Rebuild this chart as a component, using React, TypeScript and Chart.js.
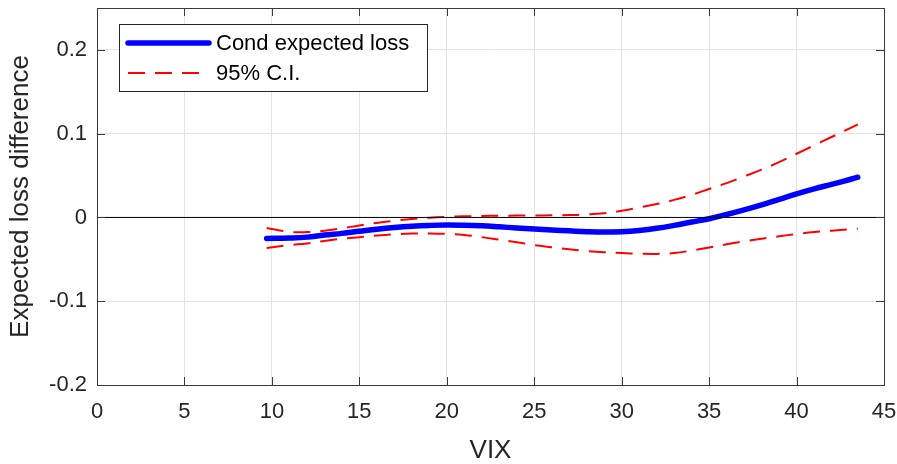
import React, { useEffect, useRef } from "react";
import { Chart, registerables } from "chart.js";

Chart.register(...registerables);

const FONT = "'Liberation Sans', Arial, Helvetica, sans-serif";

const vix = [9.7, 11, 12, 13, 14, 15, 16, 17, 18, 19, 20, 21, 22, 23, 24, 25, 26, 27, 28, 29, 30, 31, 32, 33, 34, 35, 36, 37, 38, 39, 40, 41, 42, 43, 43.5];
const condLoss = [-0.025, -0.0245, -0.0235, -0.021, -0.019, -0.0165, -0.014, -0.012, -0.0105, -0.0095, -0.009, -0.0093, -0.01, -0.0112, -0.0125, -0.0137, -0.015, -0.016, -0.017, -0.0175, -0.017, -0.0155, -0.013, -0.0095, -0.0055, -0.0015, 0.0035, 0.009, 0.015, 0.0215, 0.028, 0.034, 0.0395, 0.045, 0.048];
const ciUpper = [-0.0125, -0.0172, -0.0175, -0.016, -0.013, -0.0095, -0.0065, -0.004, -0.0018, -0.0003, 0.0007, 0.0013, 0.0018, 0.002, 0.0022, 0.0024, 0.0025, 0.0028, 0.0035, 0.005, 0.008, 0.012, 0.016, 0.021, 0.027, 0.034, 0.041, 0.049, 0.057, 0.066, 0.076, 0.086, 0.096, 0.106, 0.111];
const ciLower = [-0.0365, -0.033, -0.031, -0.028, -0.0255, -0.0235, -0.0215, -0.02, -0.0193, -0.0192, -0.0197, -0.021, -0.0235, -0.0265, -0.0295, -0.033, -0.0355, -0.038, -0.04, -0.0415, -0.0425, -0.0433, -0.0435, -0.0425, -0.0395, -0.0358, -0.032, -0.0285, -0.0255, -0.0225, -0.0198, -0.0175, -0.0158, -0.0142, -0.0135];

const xTicks = [0, 5, 10, 15, 20, 25, 30, 35, 40, 45];
const yTicks = [-0.2, -0.1, 0, 0.1, 0.2];

const labelMean = "Cond expected loss";
const labelCI = "95% C.I.";
const xTitle = "VIX";
const yTitle = "Expected loss difference";

const DASH = [17, 10];

const boxTicksPlugin = {
  id: "boxTicks",
  afterDatasetsDraw(chart: any) {
    const { ctx, chartArea: a, scales } = chart;
    const xs = scales.x, ys = scales.y;
    ctx.save();
    ctx.strokeStyle = "#3a3a3a";
    ctx.lineWidth = 1;
    const L = 8;
    ctx.beginPath();
    xTicks.forEach((t) => {
      const px = Math.round(xs.getPixelForValue(t)) + 0.5;
      ctx.moveTo(px, a.bottom);
      ctx.lineTo(px, a.bottom - L);
      ctx.moveTo(px, a.top);
      ctx.lineTo(px, a.top + L);
    });
    yTicks.forEach((t) => {
      const py = Math.round(ys.getPixelForValue(t)) + 0.5;
      ctx.moveTo(a.left, py);
      ctx.lineTo(a.left + L, py);
      ctx.moveTo(a.right, py);
      ctx.lineTo(a.right - L, py);
    });
    ctx.stroke();
    ctx.strokeRect(Math.round(a.left) + 0.5, Math.round(a.top) + 0.5, Math.round(a.right - a.left), Math.round(a.bottom - a.top));

    // legend
    const lx = 119.5, ly = 24.5, lw = 308, lh = 67;
    ctx.fillStyle = "#ffffff";
    ctx.fillRect(lx, ly, lw, lh);
    ctx.strokeStyle = "#262626";
    ctx.strokeRect(lx, ly, lw, lh);
    const rows = [
      { label: labelMean, color: "#0000ff", width: 5.5, dash: [] as number[], y: 43 },
      { label: labelCI, color: "#ff0000", width: 2, dash: DASH, y: 73 },
    ];
    ctx.font = `22px ${FONT}`;
    ctx.textBaseline = "middle";
    ctx.textAlign = "left";
    rows.forEach((r) => {
      ctx.beginPath();
      ctx.setLineDash(r.dash);
      ctx.lineWidth = r.width;
      ctx.lineCap = r.dash.length ? "butt" : "round";
      ctx.strokeStyle = r.color;
      ctx.moveTo(128, r.y);
      ctx.lineTo(209, r.y);
      ctx.stroke();
      ctx.setLineDash([]);
      ctx.fillStyle = "#000000";
      ctx.fillText(r.label, 216, r.y + 1);
    });
    ctx.restore();
  },
};

const zeroPad = (s: any) => {
  s.paddingLeft = 0;
  s.paddingRight = 0;
  s.paddingTop = 0;
  s.paddingBottom = 0;
};

export default function App() {
  const ref = useRef<HTMLCanvasElement>(null);
  useEffect(() => {
    if (!ref.current) return;
    const toPts = (ys: number[]) => ys.map((y, i) => ({ x: vix[i], y }));
    const chart = new Chart(ref.current, {
      type: "line",
      data: {
        datasets: [
          {
            label: "zero",
            data: [{ x: 0, y: 0 }, { x: 45, y: 0 }],
            borderColor: "#000000",
            borderWidth: 1,
            pointRadius: 0,
            tension: 0,
          },
          {
            label: labelCI,
            data: toPts(ciUpper),
            borderColor: "#ff0000",
            borderWidth: 2,
            borderDash: DASH,
            pointRadius: 0,
            tension: 0.4,
          },
          {
            label: labelCI + " lower",
            data: toPts(ciLower),
            borderColor: "#ff0000",
            borderWidth: 2,
            borderDash: DASH,
            pointRadius: 0,
            tension: 0.4,
          },
          {
            label: labelMean,
            data: toPts(condLoss),
            borderColor: "#0000ff",
            borderWidth: 5.5,
            borderCapStyle: "round",
            pointRadius: 0,
            tension: 0.4,
          },
        ],
      },
      options: {
        animation: false,
        responsive: false,
        maintainAspectRatio: false,
        layout: { padding: { top: 8, right: 13, left: 0, bottom: 0 } },
        plugins: { legend: { display: false }, tooltip: { enabled: false } },
        scales: {
          x: {
            type: "linear",
            min: 0,
            max: 45,
            afterFit: (s: any) => { s.height = 79; zeroPad(s); },
            afterBuildTicks: (s: any) => { s.ticks = xTicks.map((v) => ({ value: v })); },
            ticks: {
              font: { family: FONT, size: 22 },
              color: "#262626",
              padding: 14,
              maxRotation: 0,
              callback: (v: any) => String(v),
            },
            grid: { color: "#e3e3e3", drawTicks: false },
            border: { display: false },
            title: {
              display: true,
              text: xTitle,
              font: { family: FONT, size: 26, lineHeight: 1 },
              color: "#262626",
              padding: { top: 0, bottom: 0 },
            },
          },
          y: {
            type: "linear",
            min: -0.2,
            max: 0.25,
            afterFit: (s: any) => { s.width = 97; zeroPad(s); },
            afterBuildTicks: (s: any) => { s.ticks = yTicks.map((v) => ({ value: v })); },
            ticks: {
              font: { family: FONT, size: 22 },
              color: "#262626",
              padding: 10,
              callback: (v: any) => (Math.abs(v) < 1e-9 ? "0" : String(Math.round(v * 10) / 10)),
            },
            grid: { color: "#e3e3e3", drawTicks: false },
            border: { display: false },
            title: {
              display: true,
              text: yTitle,
              font: { family: FONT, size: 26, lineHeight: 1 },
              color: "#262626",
              padding: { top: 8, bottom: 0 },
            },
          },
        },
      },
      plugins: [boxTicksPlugin],
    } as any);
    return () => chart.destroy();
  }, []);
  return (
    <div style={{ position: "fixed", left: 0, top: 0, width: 897, height: 464, background: "#ffffff" }}>
      <canvas ref={ref} width={897} height={464} style={{ width: 897, height: 464, display: "block" }} />
    </div>
  );
}
